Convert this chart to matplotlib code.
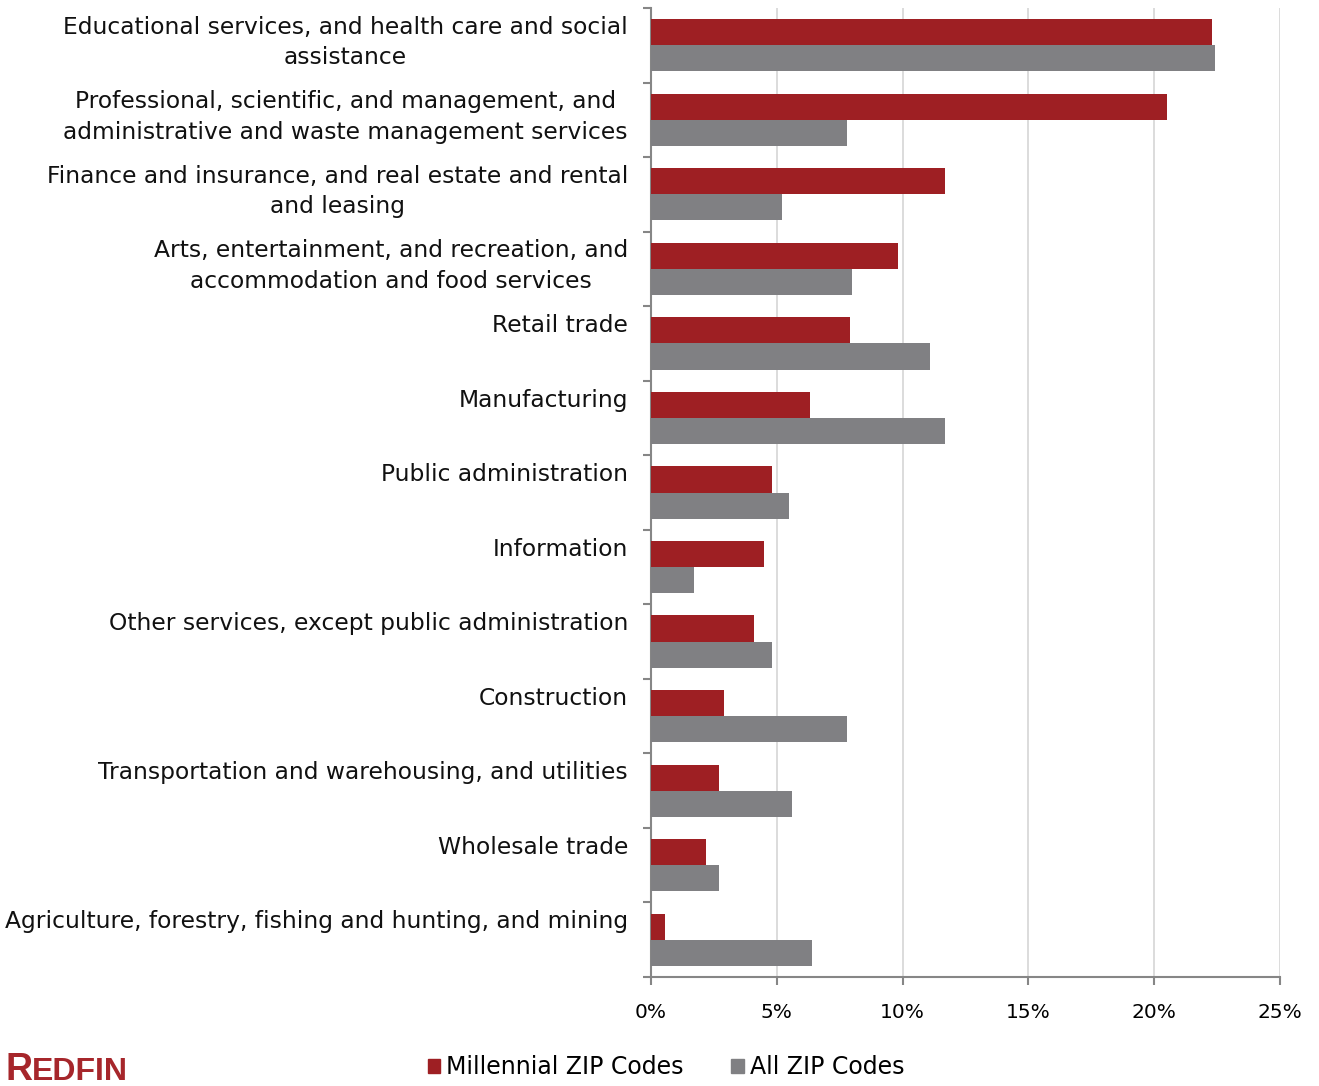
import matplotlib
matplotlib.use("Agg")
import matplotlib.pyplot as plt
from matplotlib.patches import Patch
from matplotlib.ticker import FuncFormatter
import numpy as np

categories = [
    "Educational services, and health care and social\nassistance",
    "Professional, scientific, and management, and\nadministrative and waste management services",
    "Finance and insurance, and real estate and rental\nand leasing",
    "Arts, entertainment, and recreation, and\naccommodation and food services",
    "Retail trade",
    "Manufacturing",
    "Public administration",
    "Information",
    "Other services, except public administration",
    "Construction",
    "Transportation and warehousing, and utilities",
    "Wholesale trade",
    "Agriculture, forestry, fishing and hunting, and mining",
]
millennial = [22.3, 20.5, 11.7, 9.8, 7.9, 6.3, 4.8, 4.5, 4.1, 2.9, 2.7, 2.2, 0.55]
all_zip = [22.4, 7.8, 5.2, 8.0, 11.1, 11.7, 5.5, 1.7, 4.8, 7.8, 5.6, 2.7, 6.4]
xticks = [0, 5, 10, 15, 20, 25]
series_names = ["Millennial ZIP Codes", "All ZIP Codes"]

RED = "#9E1F23"
GRAY = "#808083"
AXIS = "#868686"

plt.rcParams['font.family'] = ['DejaVu Sans']

fig = plt.figure(figsize=(13.19, 10.86), dpi=100)
ax = fig.add_axes([651/1319, 1 - 977/1086, (1280 - 651)/1319, (977 - 8)/1086])

y = np.arange(len(categories))
h = 0.35
ax.barh(y - h/2, millennial, height=h, color=RED, zorder=3)
ax.barh(y + h/2, all_zip, height=h, color=GRAY, zorder=3)

ax.set_ylim(len(categories) - 0.5, -0.5)
ax.set_xlim(0, 25)
ax.set_xticks(xticks)
ax.xaxis.set_major_formatter(FuncFormatter(lambda v, p: f"{int(v)}%"))
ax.tick_params(axis='x', length=6, width=1.5, color=AXIS, labelsize=14.5, pad=13, direction='out')
ax.set_yticks(np.arange(-0.5, len(categories)))
ax.set_yticklabels([])
ax.tick_params(axis='y', length=6, width=1.5, color=AXIS, direction='out')
ax.grid(axis='x', color="#D9D9D9", lw=1.3, zorder=0)
for s in ['top', 'right']:
    ax.spines[s].set_visible(False)
for s in ['left', 'bottom']:
    ax.spines[s].set_color(AXIS)
    ax.spines[s].set_linewidth(1.5)

trans = matplotlib.transforms.blended_transform_factory(ax.transAxes, ax.transData)
for i, lab in enumerate(categories):
    ax.text(-0.0366, i - 0.395, lab, transform=trans, ha='right', va='top',
            multialignment='center', fontsize=16.8, color='#111111', linespacing=1.4)

handles = [Patch(color=RED), Patch(color=GRAY)]
fig.legend(handles, series_names, loc='center', bbox_to_anchor=(666/1319, 1 - 1067/1086),
           ncol=2, frameon=False, fontsize=17, handlelength=0.55, handleheight=0.55,
           handletextpad=0.25, columnspacing=2.0)

# Redfin logo
fig.canvas.draw()
renderer = fig.canvas.get_renderer()
base_y = 1 - 1080/1086
tR = fig.text(5/1319, base_y, "R", color="#A6262B", fontsize=27, fontweight='bold',
              family=['Liberation Sans', 'DejaVu Sans'], va='baseline', ha='left')
bb = tR.get_window_extent(renderer)
fig.text(bb.x1 / fig.bbox.width, base_y, "EDFIN", color="#A6262B", fontsize=23,
         fontweight='bold', family=['Liberation Sans', 'DejaVu Sans'], va='baseline', ha='left')

fig.savefig("out.png", dpi=100)
